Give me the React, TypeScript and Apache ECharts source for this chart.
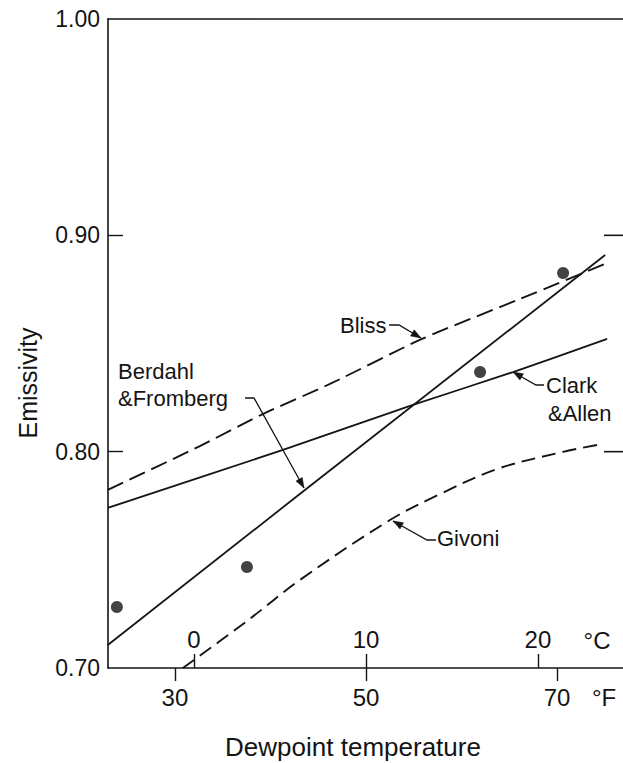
import React, { useEffect, useRef } from "react";
import * as echarts from "echarts";

// Dewpoint temperature (°F) and emissivity
const blissF = [22.98, 32.62, 39.21, 46.23, 55.86, 66.13, 75.24];
const blissE = [0.7823, 0.8026, 0.8174, 0.8313, 0.8521, 0.8706, 0.8872];

const clarkF = [22.98, 41.31, 54.92, 65.39, 75.24];
const clarkE = [0.774, 0.8008, 0.8216, 0.8368, 0.8521];

const berdahlF = [22.98, 43.61, 75.03];
const berdahlE = [0.7106, 0.7823, 0.8909];

const givoniF = [30.84, 37.54, 43.09, 52.51, 57.75, 63.72, 70.63, 74.19];
const givoniE = [0.7, 0.7217, 0.7407, 0.7684, 0.7804, 0.792, 0.7999, 0.8031];

const obsF = [23.93, 37.54, 61.94, 70.63];
const obsE = [0.7282, 0.7467, 0.8368, 0.8826];

const fTicks = [30, 50, 70];
const cTicks = [0, 10, 20];
const yTicks = [0.7, 0.8, 0.9, 1.0];
const yInnerTicks = [0.8, 0.9];

const fMin = 23;
const fMax = 76.9;

const pairs = (xs: number[], ys: number[]) => xs.map((x, i) => [x, ys[i]]);

const INK = "#141414";
const FONT = "Liberation Sans, Arial, sans-serif";

function arrowHead(tip: number[], from: number[], len = 10, half = 3.6) {
  const dx = tip[0] - from[0];
  const dy = tip[1] - from[1];
  const d = Math.hypot(dx, dy) || 1;
  const ux = dx / d;
  const uy = dy / d;
  const bx = tip[0] - ux * len;
  const by = tip[1] - uy * len;
  return {
    type: "polygon",
    shape: {
      points: [
        [tip[0], tip[1]],
        [bx - uy * half, by + ux * half],
        [bx + uy * half, by - ux * half],
      ],
    },
    style: { fill: INK, stroke: INK, lineWidth: 0.5 },
    silent: true,
  };
}

function arrow(points: number[][]) {
  const tip = points[points.length - 1];
  const prev = points[points.length - 2];
  return [
    {
      type: "polyline",
      shape: { points },
      style: { stroke: INK, lineWidth: 1.3, fill: "none" },
      silent: true,
    },
    arrowHead(tip, prev),
  ];
}

function label(text: string, x: number, y: number, size = 22, align = "left", rotation = 0) {
  return {
    type: "text",
    x,
    y,
    rotation,
    style: {
      text,
      fill: INK,
      font: `${size}px ${FONT}`,
      align,
      verticalAlign: "middle",
    },
    silent: true,
  };
}

export default function App() {
  const ref = useRef<HTMLDivElement>(null);

  useEffect(() => {
    if (!ref.current) return;
    document.documentElement.style.overflow = "hidden";
    document.body.style.overflow = "hidden";
    const chart = echarts.init(ref.current, null, { renderer: "svg" });
    const axisLine = { show: true, onZero: false, lineStyle: { color: INK, width: 1.6 } };
    const tickStyle = { color: INK, width: 1.4 };
    const labelStyle = { color: INK, fontFamily: FONT };

    const gridTop = 19;
    const gridBottom = 668;
    const yPix = (v: number) => gridBottom - ((v - 0.7) / 0.3) * (gridBottom - gridTop);

    chart.setOption({
      animation: false,
      backgroundColor: "#ffffff",
      grid: { left: 108, top: gridTop, right: 0, bottom: 763 - gridBottom, containLabel: false },
      xAxis: [
        {
          type: "value",
          position: "bottom",
          min: fMin,
          max: fMax,
          axisLine,
          axisTick: { show: true, inside: false, length: 13, customValues: fTicks, lineStyle: tickStyle },
          axisLabel: { ...labelStyle, fontSize: 24, margin: 17, customValues: fTicks },
          splitLine: { show: false },
        },
        {
          type: "value",
          position: "bottom",
          offset: 0,
          min: (fMin - 32) / 1.8,
          max: (fMax - 32) / 1.8,
          axisLine: { show: false, onZero: false },
          axisTick: { show: true, inside: true, length: 14, customValues: cTicks, lineStyle: tickStyle },
          axisLabel: { ...labelStyle, fontSize: 24, inside: true, margin: 17, customValues: cTicks },
          splitLine: { show: false },
        },
        {
          type: "value",
          position: "top",
          min: fMin,
          max: fMax,
          axisLine,
          axisTick: { show: false },
          axisLabel: { show: false },
          splitLine: { show: false },
        },
      ],
      yAxis: [
        {
          type: "value",
          position: "left",
          min: 0.7,
          max: 1.0,
          axisLine,
          axisTick: { show: true, inside: true, length: 15, customValues: yInnerTicks, lineStyle: tickStyle },
          axisLabel: {
            ...labelStyle,
            fontSize: 23,
            margin: 8,
            customValues: yTicks,
            formatter: (v: number) => v.toFixed(2),
          },
          splitLine: { show: false },
        },
      ],
      series: [
        {
          name: "Bliss",
          type: "line",
          data: pairs(blissF, blissE),
          smooth: 0.25,
          symbol: "none",
          lineStyle: { color: INK, width: 1.9, type: [17, 7] },
        },
        {
          name: "Clark & Allen",
          type: "line",
          data: pairs(clarkF, clarkE),
          smooth: 0.2,
          symbol: "none",
          lineStyle: { color: INK, width: 1.8 },
        },
        {
          name: "Berdahl & Fromberg",
          type: "line",
          data: pairs(berdahlF, berdahlE),
          smooth: false,
          symbol: "none",
          lineStyle: { color: INK, width: 1.8 },
        },
        {
          name: "Givoni",
          type: "line",
          data: pairs(givoniF, givoniE),
          smooth: 0.35,
          symbol: "none",
          lineStyle: { color: INK, width: 1.9, type: [14, 7] },
        },
        {
          name: "Observed",
          type: "scatter",
          data: pairs(obsF, obsE),
          symbol: "circle",
          symbolSize: 12,
          itemStyle: { color: INK },
        },
      ],
      graphic: [
        ...yInnerTicks.map((v) => ({
          type: "rect",
          shape: { x: 604, y: yPix(v) - 0.8, width: 19, height: 1.6 },
          style: { fill: INK },
          z: 100,
          silent: true,
        })),
        label("Emissivity", 28, 383, 25, "center", Math.PI / 2),
        label("Dewpoint temperature", 353, 747, 26, "center"),
        label("°C", 597, 640, 24, "center"),
        label("°F", 604, 697, 24, "center"),
        label("Bliss", 340, 325),
        ...arrow([[389, 325], [399, 325], [421, 338]]),
        label("Berdahl", 118, 371),
        label("&Fromberg", 118, 398),
        ...arrow([[245, 398], [254, 398], [304, 488]]),
        label("Clark", 546, 385),
        label("&Allen", 548, 413),
        ...arrow([[544, 385], [536, 385], [513, 372]]),
        label("Givoni", 437, 538),
        ...arrow([[436, 540], [427, 540], [393, 521]]),
      ],
    });

    return () => chart.dispose();
  }, []);

  return (
    <div
      ref={ref}
      style={{ position: "fixed", left: 0, top: 0, width: 623, height: 763, background: "#fff" }}
    />
  );
}
